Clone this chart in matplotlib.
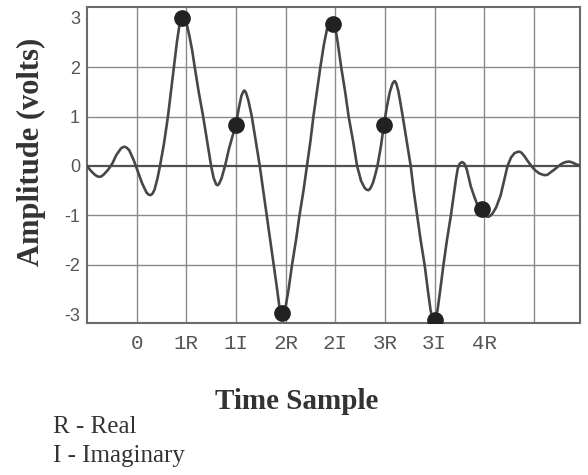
import matplotlib
matplotlib.use('Agg')
import matplotlib.pyplot as plt

# sample positions on the time axis
tick_pos = [0, 1, 2, 3, 4, 5, 6, 7, 8]
tick_labels = ['0', '1R', '1I', '2R', '2I', '3R', '3I', '4R', '']
amp_ticks = [-3, -2, -1, 0, 1, 2, 3]

# measured samples (dots)
sample_x = [0.92, 2.0, 2.93, 3.95, 4.98, 6.0, 6.96]
sample_y = [3.0, 0.83, -2.97, 2.87, 0.83, -3.12, -0.88]

# waveform
wave_x = [-1.00, -0.92, -0.84, -0.79, -0.75, -0.71, -0.66, -0.57, -0.49, -0.41,
          -0.32, -0.28, -0.24, -0.20, -0.15, -0.06, 0.02, 0.11, 0.20, 0.24,
          0.28, 0.32, 0.36, 0.42, 0.47, 0.55, 0.63, 0.69, 0.75, 0.81,
          0.86, 0.90, 0.93, 0.96, 0.99, 1.06, 1.12, 1.17, 1.25, 1.34,
          1.42, 1.50, 1.55, 1.60, 1.63, 1.66, 1.71, 1.78, 1.86, 1.93,
          2.00, 2.06, 2.11, 2.145, 2.17, 2.20, 2.25, 2.32, 2.40, 2.48,
          2.55, 2.62, 2.69, 2.76, 2.83, 2.875, 2.905, 2.93, 2.96, 3.00,
          3.06, 3.13, 3.21, 3.28, 3.36, 3.43, 3.50, 3.56, 3.63, 3.70,
          3.77, 3.84, 3.89, 3.93, 3.96, 4.00, 4.05, 4.12, 4.20, 4.27,
          4.36, 4.44, 4.52, 4.59, 4.63, 4.67, 4.71, 4.76, 4.80, 4.85,
          4.92, 4.98, 5.04, 5.10, 5.15, 5.18, 5.20, 5.23, 5.27, 5.31,
          5.36, 5.44, 5.52, 5.58, 5.65, 5.72, 5.80, 5.87, 5.92, 5.96,
          5.99, 6.02, 6.06, 6.11, 6.18, 6.25, 6.33, 6.40, 6.43, 6.47,
          6.51, 6.555, 6.60, 6.65, 6.73, 6.80, 6.86, 6.93, 7.00, 7.04,
          7.08, 7.12, 7.17, 7.24, 7.33, 7.40, 7.47, 7.54, 7.61, 7.67,
          7.71, 7.75, 7.81, 7.87, 7.95, 8.03, 8.11, 8.19, 8.23, 8.27,
          8.35, 8.43, 8.50, 8.57, 8.64, 8.71, 8.78, 8.86, 8.93]
wave_y = [0.00, -0.10, -0.18, -0.21, -0.22, -0.21, -0.17, -0.07, 0.05, 0.22,
          0.35, 0.38, 0.39, 0.37, 0.32, 0.12, -0.10, -0.35, -0.54, -0.58,
          -0.59, -0.56, -0.48, -0.25, 0.00, 0.45, 1.00, 1.50, 2.00, 2.50,
          2.84, 3.00, 3.05, 3.03, 2.95, 2.65, 2.33, 2.00, 1.50, 1.00,
          0.50, 0.00, -0.24, -0.37, -0.39, -0.36, -0.25, 0.00, 0.35, 0.60,
          0.85, 1.18, 1.42, 1.50, 1.53, 1.49, 1.33, 1.00, 0.50, 0.00,
          -0.50, -1.00, -1.50, -2.00, -2.50, -2.85, -2.98, -3.02, -2.98, -2.85,
          -2.50, -2.00, -1.50, -1.00, -0.50, 0.00, 0.50, 1.00, 1.50, 2.00,
          2.45, 2.80, 2.94, 2.97, 2.94, 2.82, 2.50, 2.00, 1.50, 1.00,
          0.50, 0.00, -0.30, -0.44, -0.48, -0.49, -0.45, -0.34, -0.20, 0.00,
          0.40, 0.83, 1.20, 1.50, 1.66, 1.71, 1.72, 1.67, 1.52, 1.30,
          1.00, 0.50, 0.00, -0.50, -1.00, -1.50, -2.00, -2.55, -2.92, -3.09,
          -3.13, -3.09, -2.92, -2.55, -2.00, -1.50, -1.00, -0.50, -0.28, -0.04,
          0.05, 0.08, 0.05, -0.07, -0.41, -0.62, -0.78, -0.90, -0.98, -1.02,
          -1.03, -1.01, -0.96, -0.84, -0.60, -0.30, 0.00, 0.17, 0.26, 0.285,
          0.29, 0.27, 0.20, 0.11, 0.00, -0.09, -0.15, -0.18, -0.185, -0.18,
          -0.12, -0.06, 0.00, 0.05, 0.08, 0.09, 0.07, 0.03, 0.01]

fig = plt.figure(figsize=(5.88, 4.75), dpi=100)
ax = fig.add_axes([87/588, 1 - 323/475, (580 - 87)/588, (323 - 7)/475])

# grid drawn by hand: no lines at +/-3
for xv in tick_pos:
    ax.axvline(xv, color='#8a8a8a', lw=1.0, zorder=1)
for yv in amp_ticks[1:-1]:
    ax.axhline(yv, color='#505050' if yv == 0 else '#8a8a8a',
               lw=1.6 if yv == 0 else 1.0, zorder=1)

ax.plot(wave_x, wave_y, color='#474747', lw=1.9, zorder=3,
        solid_joinstyle='round', solid_capstyle='round')
ax.plot(sample_x, sample_y, 'o', color='#222222', ms=11, zorder=4)

ax.set_xlim(-1, 8.93)
ax.set_ylim(-3.18, 3.22)
ax.set_xticks(tick_pos)
ax.set_xticklabels(tick_labels, family='Liberation Mono', fontsize=15, color='#555555')
ax.set_yticks(amp_ticks)
ax.set_yticklabels([str(v) for v in amp_ticks], family='Liberation Sans',
                   fontsize=13, color='#555555')
ax.tick_params(axis='both', length=0)
ax.tick_params(axis='x', pad=8)
ax.tick_params(axis='y', pad=5)
for s in ax.spines.values():
    s.set_color('#6a6a6a')
    s.set_linewidth(1.5)

fig.text(31/588, 1 - 152/475, 'Amplitude (volts)', rotation=90, ha='center', va='center',
         family='Liberation Serif', fontweight='bold', fontsize=22, color='#333333')
fig.text(297/588, 1 - 409/475, 'Time Sample', ha='center', va='baseline',
         family='Liberation Serif', fontweight='bold', fontsize=21, color='#333333')
fig.text(53/588, 1 - 433/475, 'R - Real', ha='left', va='baseline',
         family='Liberation Serif', fontsize=18, color='#333333')
fig.text(53/588, 1 - 462/475, 'I - Imaginary', ha='left', va='baseline',
         family='Liberation Serif', fontsize=18, color='#333333')

fig.savefig('out.png', dpi=100)
